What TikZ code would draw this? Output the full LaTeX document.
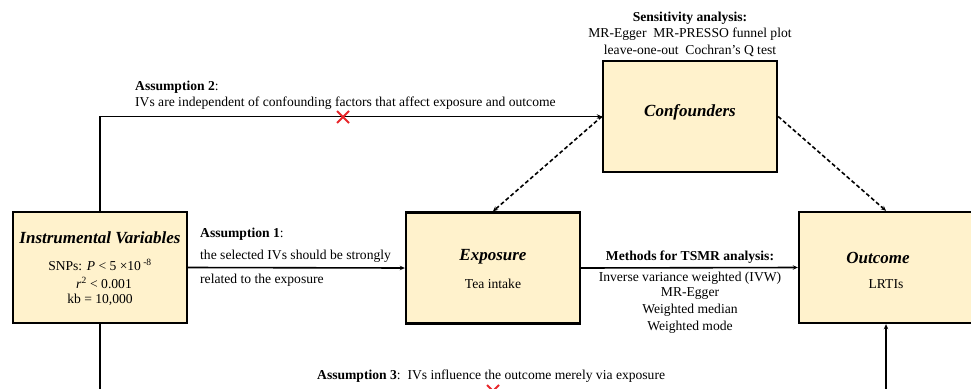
\documentclass[tikz,border=0pt]{standalone}
\usepackage{fontspec}
\setmainfont{Liberation Serif}
\usetikzlibrary{arrows.meta,calc}
\definecolor{boxfill}{HTML}{FFF2CC}
\definecolor{crossred}{HTML}{E8262A}
\tikzset{
  box/.style={draw=black, line width=2.4pt, fill=boxfill, minimum width=174pt, minimum height=111pt, inner sep=0pt},
  title/.style={font=\fontsize{17}{19}\selectfont\bfseries\itshape, inner sep=0pt},
  txt/.style={font=\fontsize{13.6}{15}\selectfont, inner sep=0pt},
  conn/.style={line width=1.6pt, -{Stealth[length=5pt,width=4.5pt]}},
  dconn/.style={line width=1.6pt, dash pattern=on 4pt off 2.5pt, -{Stealth[length=5pt,width=4.5pt]}},
  xmark/.style={draw=crossred, line width=1.8pt}
}
\begin{document}
\begin{tikzpicture}[x=1pt,y=-1pt]
\useasboundingbox (0,0) rectangle (971,388);
\clip (0,0) rectangle (971,388);
% boxes
\node[box] (iv)   at (100,267.5) {};
\node[box] (exp)  at (493,268) {};
\node[box] (conf) at (690,116.5) {};
\node[box] (out)  at (886,267.5) {};
% box texts
\node[title] (ivt) at (100,238) {Instrumental Variables};
\node[txt] (iv1) at (100,265) {SNPs: \textit{P} < 5 ×10\,\textsuperscript{-8}};
\node[txt] (iv2) at (104,283) {\textit{r}\textsuperscript{2} < 0.001};
\node[txt] (iv3) at (100,300) {kb = 10,000};
\node[title] (expt) at (493,257) {Exposure};
\node[txt] (exp1) at (493,284) {Tea intake};
\node[title] (conft) at (690,112) {Confounders};
\node[title] (outt) at (878,258) {Outcome};
\node[txt] (out1) at (886,284) {LRTIs};
% sensitivity text
\node[txt] (s0) at (690,18) {\textbf{Sensitivity analysis:}};
\node[txt] (s1) at (690,34) {MR-Egger\ \ MR-PRESSO funnel plot};
\node[txt] (s2) at (690,51) {leave-one-out\ \ Cochran’s Q test};
% assumption 2
\node[txt, anchor=west] (a2a) at (135,87) {\textbf{Assumption 2}:};
\node[txt, anchor=west] (a2b) at (135,103) {IVs are independent of confounding factors that affect exposure and outcome};
% assumption 1
\node[txt, anchor=west] (a1a) at (200,234) {\textbf{Assumption 1}:};
\node[txt, anchor=west] (a1b) at (200,256) {the selected IVs should be strongly};
\node[txt, anchor=west] (a1c) at (200,280) {related to the exposure};
% methods
\node[txt] (m0) at (690,257) {\textbf{Methods for TSMR analysis:}};
\node[txt] (m1) at (690,278) {Inverse variance weighted (IVW)};
\node[txt] (m2) at (690,294) {MR-Egger};
\node[txt] (m3) at (690,310) {Weighted median};
\node[txt] (m4) at (690,327) {Weighted mode};
% assumption 3
\node[txt, anchor=west] (a3) at (317,376) {\textbf{Assumption 3}:\ \ IVs influence the outcome merely via exposure};
% connectors
\draw[conn] (iv.north) |- (conf.west);
\draw[conn] (iv.east) -- (exp.west);
\draw[conn] (exp.east) -- (out.west);
\draw[dconn] (conf.west) -- (exp.north);
\draw[dconn] (conf.east) -- (out.north);
\coordinate (bl) at (100,391);
\draw[conn] (iv.south) -- (bl) -| (out.south);
% red crosses
\coordinate (x1) at (343,117);
\coordinate (x2) at (493,391);
\draw[xmark] ($(x1)+(-6,-6)$) -- ($(x1)+(6,6)$) ($(x1)+(-6,6)$) -- ($(x1)+(6,-6)$);
\draw[xmark] ($(x2)+(-6,-6)$) -- ($(x2)+(6,6)$) ($(x2)+(-6,6)$) -- ($(x2)+(6,-6)$);
\end{tikzpicture}
\end{document}
